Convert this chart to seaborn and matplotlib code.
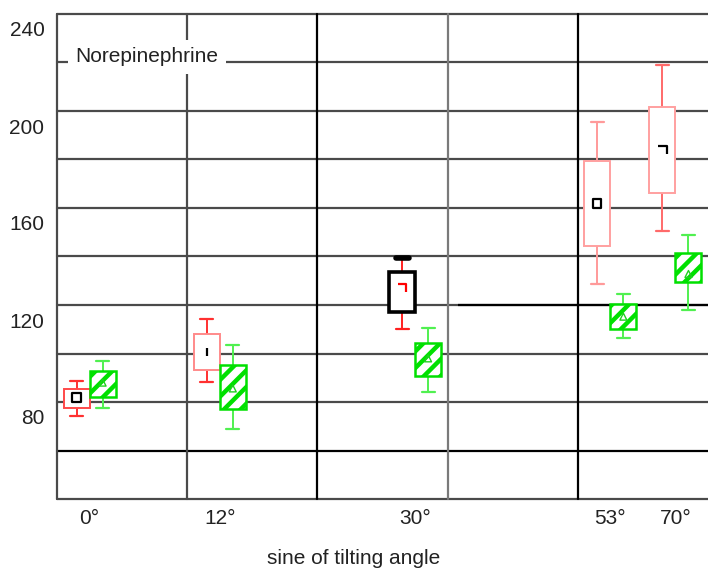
import numpy as np
import pandas as pd
import matplotlib
matplotlib.use("Agg")
import matplotlib.pyplot as plt
import seaborn as sns
from matplotlib import font_manager as fm
from matplotlib.transforms import ScaledTranslation
from matplotlib.markers import MarkerStyle
from matplotlib.path import Path

# ---------------- data ----------------
angle_labels = ["0°", "12°", "30°", "53°", "70°"]
sine_pos = [0.0, 0.2, 0.5, 0.8, 0.9]

red_lo = [74.2, 88.1, 110.1, 128.5, 150.5]
red_q1 = [77.7, 93.2, 117.2, 144.3, 166.3]
red_mid = [81.9, 100.7, 127.0, 161.9, 183.9]
red_q3 = [85.4, 107.9, 133.5, 179.4, 201.5]
red_hi = [88.8, 114.1, 139.3, 195.3, 219.0]

green_lo = [77.7, 68.7, 84.3, 106.3, 117.9]
green_q1 = [82.2, 77.0, 90.7, 110.1, 129.4]
green_mid = [88.0, 85.6, 98.0, 115.2, 132.8]
green_q3 = [92.8, 95.3, 104.5, 120.4, 141.3]
green_hi = [97.0, 103.5, 110.4, 124.4, 148.9]

groups = ["A", "B"]
y_ticks = [80, 120, 160, 200, 240]
grid_y = [40, 60, 80, 100, 120, 140, 160, 180, 200, 220, 240]
grid_x = [-0.05, 0.15, 0.35, 0.55, 0.75]

# --------------- fonts ----------------
names = {f.name for f in fm.fontManager.ttflist}
if "Liberation Sans Narrow" in names:
    FAM, FS = "Liberation Sans Narrow", 18
else:
    FAM, FS = "Liberation Sans", 15

sns.set_theme(style="white")
plt.rcParams["font.family"] = [FAM, "DejaVu Sans"]
plt.rcParams["hatch.linewidth"] = 3.2

rows = []
for i, p in enumerate(sine_pos):
    for v in (red_lo[i], red_q1[i], red_mid[i], red_q3[i], red_hi[i]):
        rows.append((p, "A", v))
    for v in (green_lo[i], green_q1[i], green_mid[i], green_q3[i], green_hi[i]):
        rows.append((p, "B", v))
df = pd.DataFrame(rows, columns=["sine", "group", "value"])

mk = pd.DataFrame({
    "sine": sine_pos + sine_pos,
    "group": ["A"] * 5 + ["B"] * 5,
    "value": red_mid + green_mid,
})

fig = plt.figure(figsize=(7.08, 5.71), dpi=100)
ax = fig.add_axes([57 / 708, 1 - 499 / 571, 651 / 708, 485 / 571])

GRAY = "#4a4a4a"
for gy in grid_y:
    col = "black" if gy == 60 else GRAY
    ax.axhline(gy, color=col, lw=1.6, zorder=1, clip_on=False)
ax.hlines(120, 0.566, 0.95, color="black", lw=1.6, zorder=1.1)
for gx in grid_x:
    col = "black" if gx in (0.35, 0.75) else ("#7a7a7a" if gx == 0.55 else GRAY)
    ax.axvline(gx, color=col, lw=1.6, zorder=1, clip_on=False)

sns.boxplot(data=df, x="sine", y="value", hue="group", hue_order=groups,
            native_scale=True, whis=(0, 100), fill=True, legend=False,
            palette={"A": "white", "B": "white"}, linewidth=1.5, ax=ax,
            showfliers=False)

red_edges = ["#ff4a4a", "#ff8a8a", "black", "#ffa0a0", "#ffa0a0"]
red_whisk = ["#ff3030", "#ff3030", "#ff2020", "#ff9a9a", "#ff6a6a"]
green_edge = "#00e000"
green_whisk = "#50f050"

conts = [c for c in ax.containers]
cr, cg = conts[0], conts[1]
for i, b in enumerate(cr.boxes):
    b.set_facecolor("white")
    b.set_edgecolor(red_edges[i])
    b.set_linewidth(2.6 if i == 2 else 1.4)
    b.set_zorder(3)
for i in range(5):
    for j in range(2):
        w = cr.whiskers[2 * i + j]
        w.set_color(red_whisk[i]); w.set_linewidth(1.4); w.set_zorder(2.5)
        c = cr.caps[2 * i + j]
        c.set_color(red_whisk[i]); c.set_linewidth(1.6); c.set_zorder(2.5)
cr.caps[5].set_color("black"); cr.caps[5].set_linewidth(4)
for m in cr.medians:
    m.set_visible(False)
for b in cg.boxes:
    b.set_facecolor("white")
    b.set_edgecolor(green_edge)
    b.set_hatch("//")
    b.set_linewidth(1.8)
    b.set_zorder(3)
for w in cg.whiskers:
    w.set_color(green_whisk); w.set_linewidth(1.4); w.set_zorder(2.5)
for c in cg.caps:
    c.set_color(green_whisk); c.set_linewidth(1.6); c.set_zorder(2.5)
for m in cg.medians:
    m.set_visible(False)

# markers
corner = Path([(-0.5, 0.5), (0.5, 0.5), (0.5, -0.5)],
              [Path.MOVETO, Path.LINETO, Path.LINETO])
red_markers = ["s", "|", corner, "s", corner]
red_mcol = ["black", "black", "red", "black", "black"]


def new_colls(start):
    cs = [c for c in ax.collections[start:] if len(c.get_offsets()) > 0]
    return sorted(cs, key=lambda c: c.get_offsets()[0][0])


n0 = len(ax.collections)
sns.stripplot(data=mk[mk.group == "A"], x="sine", y="value", hue="group",
              hue_order=groups, native_scale=True, dodge=True, jitter=False,
              legend=False, size=6, ax=ax, palette={"A": "k", "B": "k"})
for i, coll in enumerate(new_colls(n0)):
    ms = MarkerStyle(red_markers[i])
    coll.set_paths([ms.get_path().transformed(ms.get_transform())])
    coll.set_facecolor("none")
    coll.set_edgecolor(red_mcol[i])
    coll.set_linewidth(1.6)
    coll.set_zorder(5)

n1 = len(ax.collections)
sns.stripplot(data=mk[mk.group == "B"], x="sine", y="value", hue="group",
              hue_order=groups, native_scale=True, dodge=True, jitter=False,
              legend=False, size=5, marker="^", ax=ax,
              palette={"A": green_edge, "B": green_edge})
for coll in new_colls(n1):
    coll.set_facecolor("none")
    coll.set_edgecolor("#20d020")
    coll.set_linewidth(1.0)
    coll.set_zorder(5)

ax.set_xlim(-0.05, 0.95)
ax.set_ylim(40, 240)
for s in ax.spines.values():
    s.set_visible(False)

ax.set_xticks(sine_pos)
ax.set_xticklabels(angle_labels, fontsize=FS, color="#222222")
ax.set_yticks(y_ticks)
ax.set_yticklabels([str(t) for t in y_ticks], fontsize=FS, color="#222222")
ax.tick_params(axis="both", length=0)
ax.tick_params(axis="y", pad=9)
ax.tick_params(axis="x", pad=7)
off = ScaledTranslation(0, -0.15, fig.dpi_scale_trans)
for lab in ax.get_yticklabels():
    lab.set_transform(lab.get_transform() + off)

ax.set_xlabel("sine of tilting angle", fontsize=FS, color="#222222")
ax.xaxis.set_label_coords(0.456, -0.122)
ax.xaxis.label.set_va("center")
ax.set_ylabel("")

ax.text(-0.022, 222.3, "Norepinephrine", fontsize=FS, color="#222222",
        va="center", ha="left", zorder=6,
        bbox=dict(boxstyle="square,pad=0.35", fc="white", ec="none"))

fig.savefig("out.png", dpi=100)
